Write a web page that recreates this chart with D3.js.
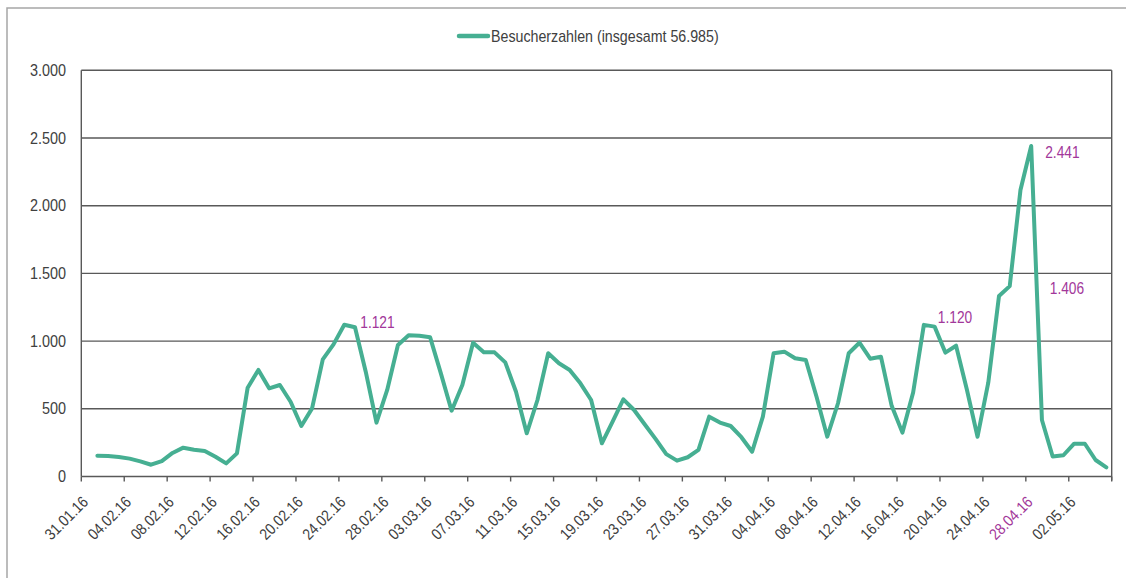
<!DOCTYPE html>
<html>
<head>
<meta charset="utf-8">
<script src="https://cdn.jsdelivr.net/npm/d3@7"></script>
<style>
  body { margin: 0; background: #fff; }
  svg { display: block; }
  text { font-family: "Liberation Sans", Arial, sans-serif; font-size: 16px; fill: #404040; }
</style>
</head>
<body>
<svg id="chart" width="1126" height="578"></svg>
<script>
// axis runs from 31.01.16 to 05.05.16, one category per day
var firstDay = "31.01.16", lastDay = "05.05.16";
// visitors per day, 01.02.16 .. 05.05.16
var visitors = [
    154, 151, 144, 132, 112, 87, 114, 174, 213, 198,
    188, 146, 97, 171, 656, 787, 651, 676, 552, 373,
    503, 865, 976, 1121, 1102, 774, 398, 639, 971, 1043,
    1040, 1028, 762, 486, 676, 988, 917, 917, 843, 626,
    319, 565, 910, 836, 787, 688, 565, 245, 406, 570,
    491, 384, 278, 165, 117, 142, 196, 442, 398, 373,
    290, 183, 442, 910, 922, 873, 860, 589, 294, 541,
    910, 988, 870, 885, 522, 324, 620, 1120, 1107, 915,
    966, 645, 294, 693, 1333, 1406, 2116, 2441, 417, 148,
    157, 242, 242, 122, 68
];
var tickLabels = ["31.01.16", "04.02.16", "08.02.16", "12.02.16", "16.02.16", "20.02.16",
    "24.02.16", "28.02.16", "03.03.16", "07.03.16", "11.03.16", "15.03.16", "19.03.16",
    "23.03.16", "27.03.16", "31.03.16", "04.04.16", "08.04.16", "12.04.16", "16.04.16",
    "20.04.16", "24.04.16", "28.04.16", "02.05.16"];
var yTicks = [0, 500, 1000, 1500, 2000, 2500, 3000];
var labelledDays = ["24.02.16", "18.04.16", "26.04.16", "28.04.16"];
var highlightTick = "28.04.16";
var seriesName = "Besucherzahlen (insgesamt 56.985)";

(function() {
    var parse = d3.timeParse("%d.%m.%y"), fmt = d3.timeFormat("%d.%m.%y");
    var days = d3.timeDay.range(parse(firstDay), d3.timeDay.offset(parse(lastDay), 1)).map(fmt);
    var data = visitors.map(function(v, i) { return { day: days[i + 1], value: v }; });
    var num = function(v) { return d3.format(",")(v).replace(/,/g, "."); };

    var left = 81.3, right = 1111.7, top = 70.3, bottom = 476.5;
    var grid = "#595959", lineColor = "#46af92", accent = "#a2379a";
    var narrow = " scale(0.86,1)";   // stand-in for the narrow font of the original

    var x = d3.scaleBand().domain(days).range([left, right]);
    var y = d3.scaleLinear().domain([0, 3000]).range([bottom, top]);
    var cx = function(d) { return x(d) + x.bandwidth() / 2; };

    var svg = d3.select("#chart");

    // outer frame
    svg.append("rect").attr("x", 7).attr("y", 8).attr("width", 1130).attr("height", 600)
        .attr("fill", "none").attr("stroke", "#a6a6a6").attr("stroke-width", 1.5);

    // legend
    svg.append("line").attr("x1", 459).attr("x2", 488).attr("y1", 36).attr("y2", 36)
        .attr("stroke", lineColor).attr("stroke-width", 4.5).attr("stroke-linecap", "round");
    svg.append("text").attr("transform", "translate(491,42) scale(0.89,1)").text(seriesName);

    // gridlines
    svg.append("g").selectAll("line")
        .data(yTicks.filter(function(t) { return t > 0; }))
        .join("line")
        .attr("x1", left).attr("x2", right)
        .attr("y1", function(d) { return y(d); }).attr("y2", function(d) { return y(d); })
        .attr("stroke", grid).attr("stroke-width", 1.4);

    svg.append("line").attr("x1", right).attr("x2", right).attr("y1", top).attr("y2", bottom + 4)
        .attr("stroke", grid).attr("stroke-width", 1.4);
    svg.append("line").attr("x1", left).attr("x2", left).attr("y1", top).attr("y2", bottom)
        .attr("stroke", grid).attr("stroke-width", 1.4);

    // y labels
    svg.append("g").selectAll("text").data(yTicks).join("text")
        .attr("text-anchor", "end")
        .attr("transform", function(d) { return "translate(66," + (y(d) + 5.5) + ") scale(0.9,1)"; })
        .text(num);

    // x axis: ticks at category boundaries every 4 days, labels rotated
    var tickDays = days.filter(function(d, i) { return i % 4 === 0; });
    var xg = svg.append("g");
    xg.append("line").attr("x1", left).attr("x2", right).attr("y1", bottom).attr("y2", bottom)
        .attr("stroke", grid).attr("stroke-width", 1.4);
    xg.selectAll("line.tick").data(tickDays.map(function(d) { return x(d); }).concat([right]))
        .join("line").attr("class", "tick")
        .attr("x1", function(d) { return d; }).attr("x2", function(d) { return d; })
        .attr("y1", bottom).attr("y2", bottom + 5)
        .attr("stroke", grid).attr("stroke-width", 1.4);
    xg.selectAll("text").data(tickLabels).join("text")
        .attr("text-anchor", "end")
        .attr("transform", function(d) { return "translate(" + (cx(d) + 2.5) + "," + 503 + ") rotate(-45)" + narrow; })
        .style("fill", function(d) { return d === highlightTick ? accent : null; })
        .text(function(d) { return d; });

    // series line
    var line = d3.line()
        .x(function(d) { return cx(d.day); })
        .y(function(d) { return y(d.value); });
    svg.append("path").datum(data).attr("d", line)
        .attr("fill", "none").attr("stroke", lineColor).attr("stroke-width", 4)
        .attr("stroke-linejoin", "round").attr("stroke-linecap", "round");

    // data labels
    var offsets = { "24.02.16": [16, 3], "18.04.16": [14, -1.5], "26.04.16": [40, 8], "28.04.16": [14, 12.5] };
    svg.append("g").selectAll("text")
        .data(data.filter(function(d) { return labelledDays.indexOf(d.day) >= 0; }))
        .join("text")
        .attr("transform", function(d) {
            return "translate(" + (cx(d.day) + offsets[d.day][0]) + "," + (y(d.value) + offsets[d.day][1]) + ")" + narrow;
        })
        .style("fill", accent)
        .text(function(d) { return num(d.value); });
})();
</script>
</body>
</html>
